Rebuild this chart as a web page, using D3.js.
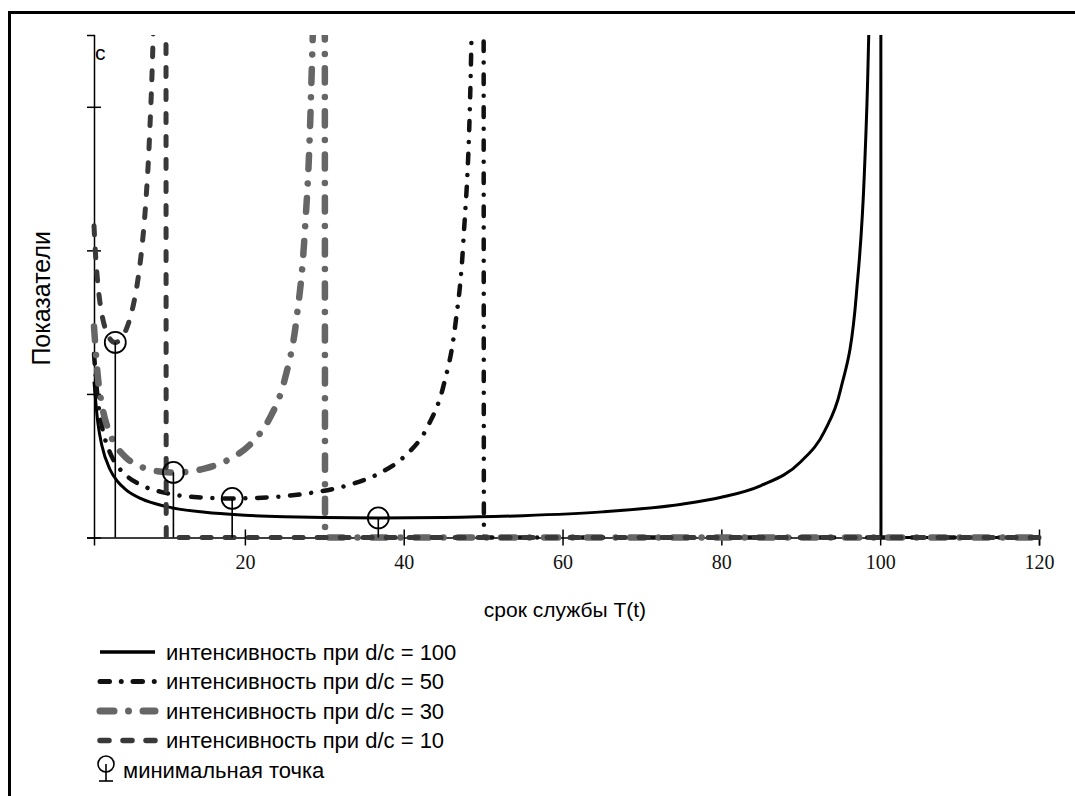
<!DOCTYPE html>
<html><head><meta charset="utf-8">
<script src="https://cdn.jsdelivr.net/npm/d3@7"></script>
<style>body{margin:0;background:#fff}svg{display:block}</style>
</head><body><svg id="c" width="1075" height="796"></svg>
<script>
// ---- data ----
const xTicks = [20, 40, 60, 80, 100, 120];
const yTicks = [0, 0.2, 0.4, 0.6];

const T100 = [1,1.5,2,3,4,5,7,10,15,20,25,30,36.8,45,55,65,75,80,85,90,93,95,97,98,98.5,99,99.5,99.9,100.1,105,110,120];
const V100 = [0.2171,0.1587,0.1278,0.0951,0.0777,0.0668,0.0537,0.0434,0.0351,0.0311,0.0289,0.0277,0.0272,0.0278,0.0304,0.0357,0.0463,0.0560,0.0724,0.1055,0.1482,0.2052,0.3384,0.5051,0.6717,1.005,2.005,10.0,-9.99,-0.195,-0.0954,-0.0457];

const T50 = [1,1.5,2,3,4,5,7,10,14,18.4,23,28,33,37,40,43,45,46.5,47.5,48.5,49,49.5,49.9,50.1,60,120];
const V50 = [0.2556,0.1901,0.1553,0.1185,0.0990,0.0869,0.0727,0.0621,0.0561,0.0544,0.0560,0.0616,0.0729,0.0898,0.1120,0.1542,0.2109,0.2963,0.4105,0.6768,1.010,2.010,10.01,-9.99,-0.0914,-0.0095];

const T30 = [1,1.5,2,3,4,5,7,9,11,13,15,18,21,23,25,26.5,27.5,28.3,28.8,29.3,29.9,30.1,40,120];
const V30 = [0.2940,0.2225,0.1846,0.1448,0.1241,0.1116,0.0982,0.0923,0.0906,0.0920,0.0962,0.1088,0.1335,0.1636,0.2194,0.3042,0.4179,0.6057,0.8506,1.4455,10.02,-9.98,-0.0869,-0.006];

const T10 = [1,1.2,1.5,2,2.5,3,3.68,4.5,5,5.5,6,6.5,7,7.5,8,8.5,9,9.5,9.9,10.1,15,120];
const V10 = [0.4343,0.3930,0.3514,0.3107,0.2885,0.2769,0.2718,0.2783,0.2885,0.3041,0.3263,0.3571,0.4005,0.4634,0.5602,0.7240,1.0546,2.052,10.05,-9.95,-0.1644,-0.0034];

const minT = [36.8, 18.4, 11.0, 3.68];
const minV = [0.0272, 0.0544, 0.0906, 0.2718];

const seriesNames = ["интенсивность при d/c = 100","интенсивность при d/c = 50","интенсивность при d/c = 30","интенсивность при d/c = 10"];
const minName = "минимальная точка";
const xTitle = "срок службы T(t)";
const yTitle = "Показатели";
const yTopLabel = "c";

// ---- styles ----
const FONT = 'Liberation Sans, Arial, sans-serif';
const styles = [
  {color:"#000", width:3, dash:null, cap:"butt"},
  {color:"#111", width:4.5, dash:"9.5,11.75,0.01,11.75", cap:"round"},
  {color:"#666", width:6.5, dash:"14,14.5,0.01,14.5", cap:"round"},
  {color:"#393939", width:5, dash:"9,14", cap:"round"}
];
const series = [[T100,V100],[T50,V50],[T30,V30],[T10,V10]];

const svg = d3.select('#c');
svg.append('rect').attr('width',1075).attr('height',796).attr('fill','#fff');
svg.append('path').attr('d','M9.5,796V12.5H1075').attr('fill','none').attr('stroke','#000').attr('stroke-width',3);

const x = d3.scaleLinear().domain([1,120]).range([94,1039]);
const y = d3.scaleLinear().domain([0,0.7]).range([537.5,35]);

svg.append('clipPath').attr('id','pc').append('rect')
  .attr('x',88).attr('y',35).attr('width',960).attr('height',512);

// axes
const xa = svg.append('g').attr('transform',`translate(0,${y(0)})`)
  .call(d3.axisBottom(x).tickValues(xTicks).tickSizeOuter(0).tickSize(8));
xa.select('.domain').attr('stroke','#000').attr('stroke-width',1.5);
xa.selectAll('.tick line').attr('y1',-8).attr('y2',8).attr('stroke','#000').attr('stroke-width',1.5);
xa.selectAll('.tick text').attr('y',31).attr('dy',0).attr('font-family','Liberation Serif, serif')
  .attr('font-size',20).attr('fill','#111');

const ya = svg.append('g').attr('transform',`translate(${x(1)},0)`)
  .call(d3.axisLeft(y).tickValues(yTicks).tickFormat('').tickSizeOuter(0).tickSize(7));
ya.select('.domain').attr('stroke','#000').attr('stroke-width',1.5);
ya.selectAll('.tick line').attr('x1',-7).attr('x2',7).attr('stroke','#000').attr('stroke-width',1.5);

svg.append('text').attr('x',95).attr('y',60).text(yTopLabel)
  .attr('font-family',FONT).attr('font-size',21).attr('fill','#000');

svg.append('text').attr('x',565).attr('y',617).attr('text-anchor','middle').text(xTitle)
  .attr('font-family',FONT).attr('font-size',21).attr('fill','#000');
svg.append('text').attr('transform','translate(50,231) rotate(-90)').attr('text-anchor','end').text(yTitle)
  .attr('font-family',FONT).attr('font-size',25).attr('fill','#000');

// curves
const plot = svg.append('g').attr('clip-path','url(#pc)');
const line = d3.line().x(d=>x(d[0])).y(d=>y(Math.max(d[1],0))).curve(d3.curveMonotoneX);
series.forEach((s,i)=>{
  const pts = s[0].map((t,j)=>[t,s[1][j]]);
  const st = styles[i];
  plot.append('path').datum(pts).attr('d',line).attr('fill','none')
    .attr('stroke',st.color).attr('stroke-width',st.width)
    .attr('stroke-dasharray',st.dash).attr('stroke-linecap',st.cap).attr('stroke-linejoin','round');
});

// minimal points (stems + circles)
const mg = svg.append('g');
minT.forEach((t,i)=>{
  mg.append('line').attr('x1',x(t)).attr('x2',x(t)).attr('y1',y(0)).attr('y2',y(minV[i]))
    .attr('stroke','#000').attr('stroke-width',1.6);
  mg.append('circle').attr('cx',x(t)).attr('cy',y(minV[i])).attr('r',10.5)
    .attr('fill','none').attr('stroke','#000').attr('stroke-width',1.8);
});

// legend
const lg = svg.append('g');
const rowY = [652, 681.5, 711, 740.5];
seriesNames.forEach((n,i)=>{
  const st = styles[i];
  lg.append('line').attr('x1',100).attr('x2',155).attr('y1',rowY[i]).attr('y2',rowY[i])
    .attr('stroke',st.color).attr('stroke-width',st.width+0.5).attr('stroke-dasharray',st.dash)
    .attr('stroke-linecap',st.cap);
  lg.append('text').attr('x',166).attr('y',rowY[i]).attr('dy','0.35em').text(n)
    .attr('font-family',FONT).attr('font-size',22).attr('fill','#000');
});
const my = 770;
lg.append('circle').attr('cx',106).attr('cy',my-6).attr('r',8).attr('fill','none').attr('stroke','#000').attr('stroke-width',1.6);
lg.append('line').attr('x1',106).attr('x2',106).attr('y1',my-6).attr('y2',my+11).attr('stroke','#000').attr('stroke-width',1.6);
lg.append('line').attr('x1',99).attr('x2',113).attr('y1',my+11).attr('y2',my+11).attr('stroke','#000').attr('stroke-width',1.6);
lg.append('text').attr('x',123).attr('y',my).attr('dy','0.35em').text(minName)
  .attr('font-family',FONT).attr('font-size',22).attr('fill','#000');
</script></body></html>
